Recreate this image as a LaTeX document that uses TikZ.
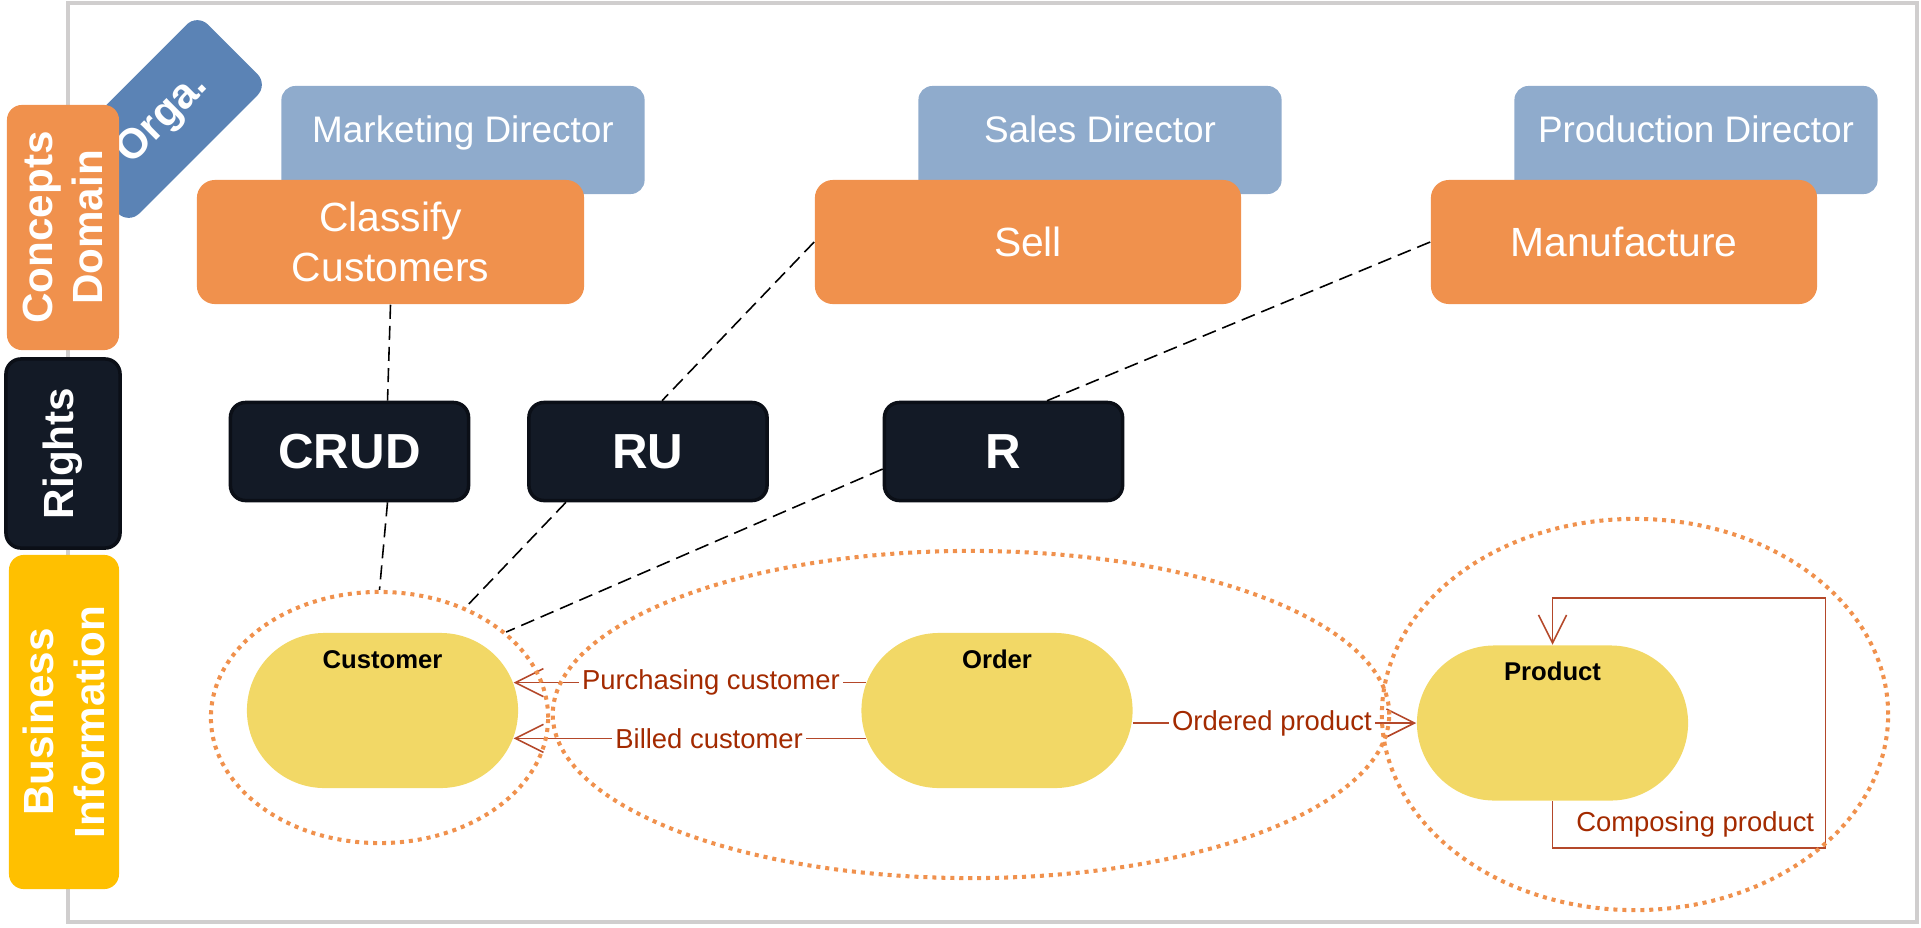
\documentclass[tikz,border=0pt]{standalone}
\usepackage{fontspec}
\setmainfont{Liberation Sans}
\usepackage{tikz}
\usetikzlibrary{shapes.geometric}
\usetikzlibrary{shapes.misc}
\usetikzlibrary{arrows.meta}
\definecolor{framegray}{HTML}{D0CECE}
\definecolor{orgablue}{HTML}{5B83B5}
\definecolor{dirblue}{HTML}{8FABCC}
\definecolor{taskorange}{HTML}{F0914D}
\definecolor{rightsnavy}{HTML}{131A26}
\definecolor{rightsedge}{HTML}{0B0F17}
\definecolor{infoyellow}{HTML}{FFC000}
\definecolor{entyellow}{HTML}{F2D866}
\definecolor{relline}{HTML}{B4482A}
\definecolor{reltext}{HTML}{A32A00}

\begin{document}
\begin{tikzpicture}[x=0.01cm, y=-0.01cm,
  sidebox/.style={rounded corners=0.15cm, rotate=90, text=white, align=center,
    font=\fontsize{12}{14.4}\selectfont\bfseries, inner sep=0pt, minimum height=1.12cm},
  orgabox/.style={rotate=45, fill=orgablue, rounded corners=0.15cm, text=white,
    font=\fontsize{12}{14.4}\selectfont\bfseries, minimum width=1.97cm, minimum height=1.0cm},
  dirbox/.style={fill=dirblue, rounded corners=0.14cm, minimum width=3.63cm, minimum height=1.08cm},
  dirtext/.style={text=white, font=\fontsize{10.5}{12.6}\selectfont, text height=0.72em,
    text depth=0.22em, yshift=1.8pt},
  taskbox/.style={fill=taskorange, rounded corners=0.18cm, text=white, align=center,
    font=\fontsize{11.6}{14.2}\selectfont, minimum height=1.24cm},
  rightbox/.style={fill=rightsnavy, draw=rightsedge, line width=1pt, rounded corners=0.15cm,
    text=white, font=\fontsize{14}{16}\selectfont\bfseries, minimum width=2.38cm, minimum height=0.98cm},
  entbox/.style={rounded rectangle, fill=entyellow, inner sep=0pt,
    minimum width=2.71cm, minimum height=1.55cm},
  entname/.style={font=\fontsize{7.3}{8.8}\selectfont\bfseries, yshift=14.6pt},
  zone/.style={ellipse, draw=taskorange, line width=1.15pt, dash pattern=on 1.15pt off 1.4pt, inner sep=0pt},
  conn/.style={draw=black, line width=0.45pt, dash pattern=on 4pt off 2pt},
  rel/.style={draw=relline, line width=0.45pt, -{Straight Barb[length=2.8mm,width=2.8mm]}},
  rellbl/.style={font=\fontsize{7.8}{9.4}\selectfont, text=reltext, fill=white, inner sep=1pt}]

  \useasboundingbox (0,0) rectangle (1921,927);
  \draw[framegray, line width=1.2pt] (68,3) rectangle (1917,922);

  \node[orgabox] (orga) at (163,119) {Orga.};
  \node[sidebox, fill=taskorange, minimum width=2.45cm] (concepts) at (63,227.5) {Concepts\\Domain};
  \node[sidebox, fill=rightsnavy, draw=rightsedge, line width=1pt, minimum width=1.89cm,
    minimum height=1.14cm] (rights) at (63,453.5) {Rights};
  \node[sidebox, fill=infoyellow, minimum width=3.34cm, minimum height=1.10cm] (business) at (64,722) {Business\\Information};

  \node[dirbox, label={[dirtext]center:Marketing Director}] (mktdir) at (463,140) {};
  \node[dirbox, label={[dirtext]center:Sales Director}] (salesdir) at (1100,140) {};
  \node[dirbox, label={[dirtext]center:Production Director}] (proddir) at (1696,140) {};

  \node[taskbox, minimum width=3.87cm] (classify) at (390.5,242) {Classify\\Customers};
  \node[taskbox, minimum width=4.26cm] (sell) at (1028,242) {Sell};
  \node[taskbox, minimum width=3.86cm] (manuf) at (1624,242) {Manufacture};

  \node[rightbox] (crud) at (349.5,451.5) {CRUD};
  \node[rightbox] (ru) at (648,451.5) {RU};
  \node[rightbox] (r) at (1003.5,451.5) {R};

  \node[entbox, label={[entname]center:Customer}] (cust) at (382.5,710.5) {};
  \node[entbox, label={[entname]center:Order}] (order) at (997,710.5) {};
  \node[entbox, label={[entname]center:Product}] (prod) at (1552.5,723) {};

  \draw[rel] (order.168) -- node[rellbl, pos=0.44] {Purchasing customer} (cust.12);
  \draw[rel] (order.192) -- node[rellbl, pos=0.445] {Billed customer} (cust.348);
  \draw[rel] (order.east |- prod.west) -- node[rellbl, pos=0.49] {Ordered product} (prod.west);
  \draw[rel] (prod.south) -- ++(0,47) -- ++(273,0)
    node[rellbl, anchor=south east, inner sep=3pt, fill=none] {Composing product}
    -- ++(0,-250) -| (prod.north);

  \node[zone, minimum width=3.37cm, minimum height=2.51cm] (custzone) at (379.5,717.5) {};
  \node[zone, minimum width=8.36cm, minimum height=3.27cm] (ordzone) at (971,714.5) {};
  \node[zone, minimum width=5.06cm, minimum height=3.91cm] (prodzone) at (1635,714.5) {};

  \draw[conn] (classify.south) -- ([xshift=3.8mm]crud.north);
  \draw[conn] ([xshift=3.8mm]crud.south) -- (custzone.north);
  \draw[conn] (sell.west) -- ([xshift=1.4mm]ru.north);
  \draw[conn] ([xshift=-8.2mm]ru.south) -- (custzone.52);
  \draw[conn] (manuf.west) -- ([xshift=4.35mm]r.north);
  \draw[conn] ([yshift=-1.75mm]r.west) -- (custzone.34);

\end{tikzpicture}
\end{document}
